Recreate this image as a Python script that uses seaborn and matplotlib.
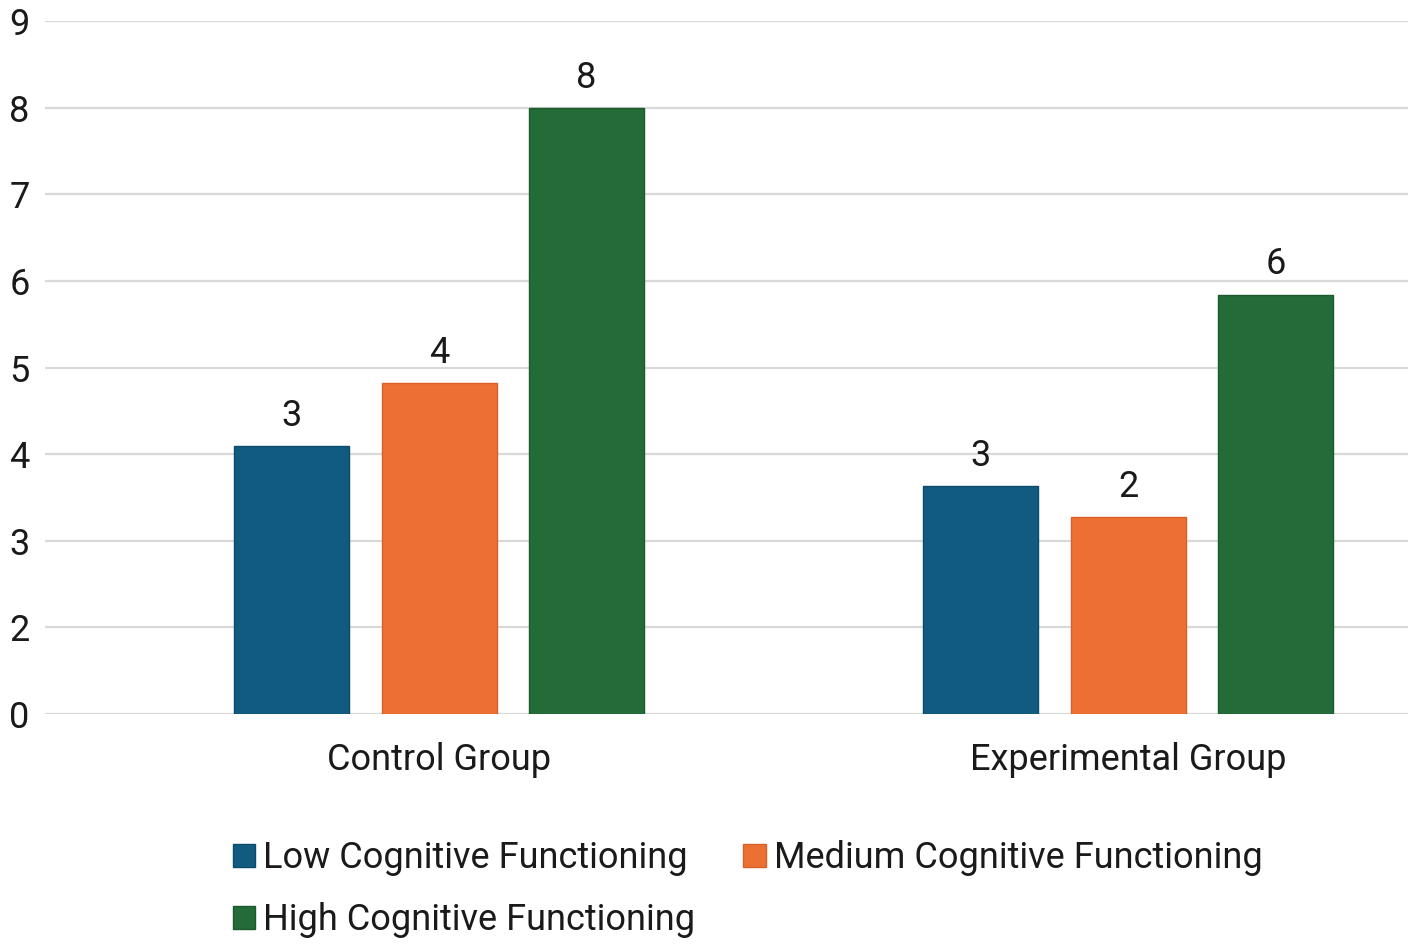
import matplotlib
matplotlib.use("Agg")
import matplotlib.pyplot as plt
from matplotlib.patches import Patch
import seaborn as sns
import pandas as pd

groups = ["Control Group", "Experimental Group"]
levels = ["Low Cognitive Functioning", "Medium Cognitive Functioning", "High Cognitive Functioning"]
# bar heights, in units of the (evenly spaced) y tick slots
low_heights = [3.09, 2.63]
medium_heights = [3.82, 2.27]
high_heights = [6.99, 4.84]
# value labels printed above the bars
low_labels = ["3", "3"]
medium_labels = ["4", "2"]
high_labels = ["8", "6"]
ytick_labels = ["0", "2", "3", "4", "5", "6", "7", "8", "9"]
colors = ["#115B80", "#EC6F33", "#236C38"]
edge_colors = ["#0B4A6B", "#D85F27", "#1A5A2D"]

rows = []
for lvl, hs in zip(levels, [low_heights, medium_heights, high_heights]):
    for g, h in zip(groups, hs):
        rows.append({"group": g, "level": lvl, "value": h})
df = pd.DataFrame(rows)

sns.set_theme(style="white")
plt.rcParams["font.family"] = ["Roboto", "DejaVu Sans"]

FS = 26
fig = plt.figure(figsize=(14.17, 9.44), dpi=100)
ax = fig.add_axes([45 / 1417, 1 - 714 / 944, (1408 - 45) / 1417, (714 - 21) / 944])

sns.barplot(data=df, x="group", y="value", hue="level", order=groups, hue_order=levels,
            palette=colors, width=0.642, gap=0.22, ax=ax, legend=False, saturation=1)

for cont, ec, labs in zip(ax.containers, edge_colors, [low_labels, medium_labels, high_labels]):
    for p in cont:
        p.set_edgecolor(ec)
        p.set_linewidth(1.0)
        p.set_zorder(3)
    ax.bar_label(cont, labels=labs, padding=9, fontsize=FS, color="#1a1a1a")

ax.set_xlim(-0.572, 1.406)
ax.set_ylim(0, 8)
ax.set_yticks(range(len(ytick_labels)))
ax.set_yticklabels(ytick_labels)
ax.yaxis.grid(True, color="#d9d9d9", linewidth=1.6, zorder=0)
ax.set_axisbelow(True)
for s in ax.spines.values():
    s.set_visible(False)
ax.tick_params(axis="y", length=0, pad=11, labelsize=FS, labelcolor="#1a1a1a")
ax.tick_params(axis="x", length=0, pad=20, labelsize=FS, labelcolor="#1a1a1a")
ax.set_xlabel("")
ax.set_ylabel("")

handles = [Patch(facecolor=colors[i], edgecolor=edge_colors[i], label=levels[i]) for i in (0, 2, 1)]
fig.legend(handles=handles, loc="upper left", bbox_to_anchor=(233 / 1417, 1 - 840 / 944),
           ncol=2, frameon=False, fontsize=FS, handlelength=0.62, handleheight=0.62,
           handletextpad=0.22, columnspacing=1.33, labelspacing=0.72, borderpad=0,
           borderaxespad=0, labelcolor="#1a1a1a")

fig.savefig("out.png", dpi=100)
